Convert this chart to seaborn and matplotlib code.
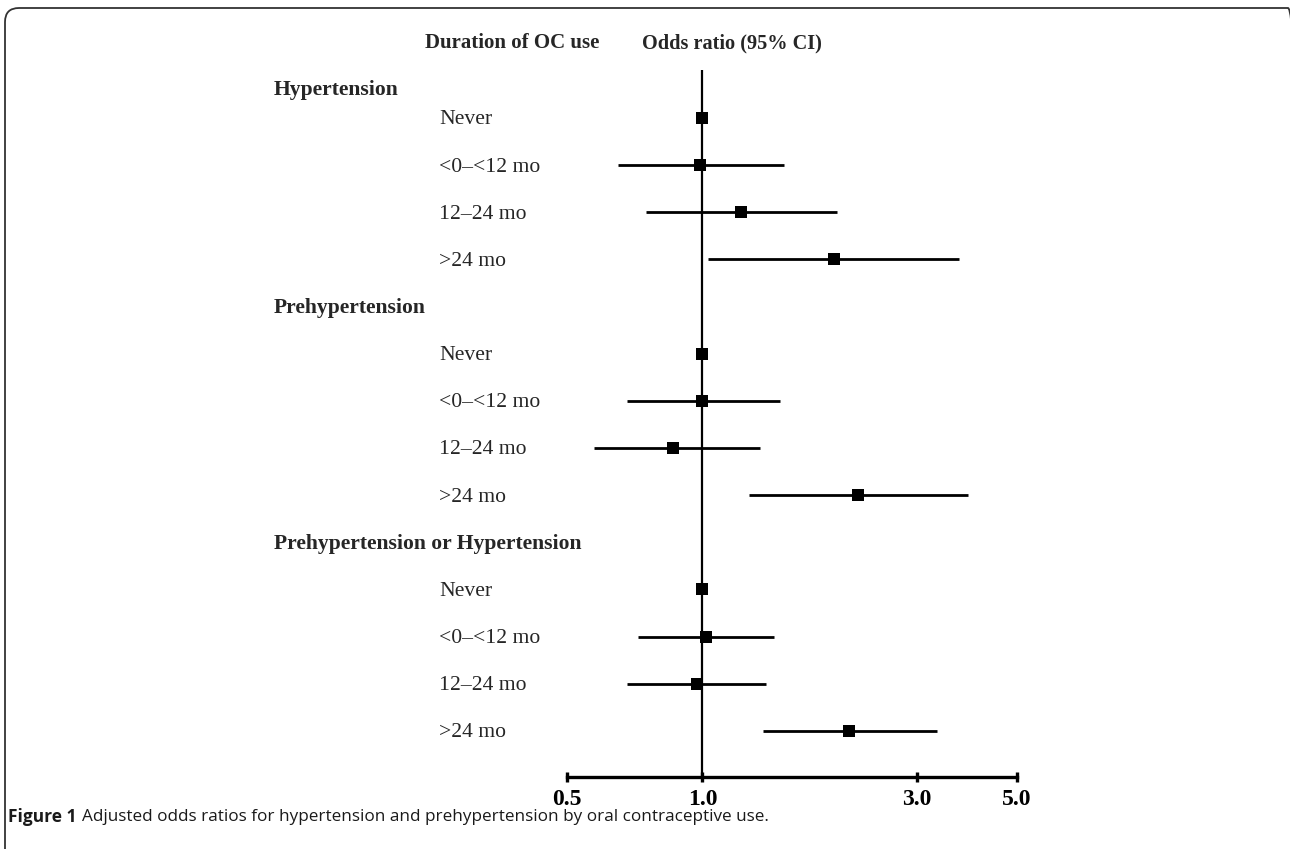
import numpy as np
import pandas as pd
import matplotlib
matplotlib.use("Agg")
import matplotlib.pyplot as plt
import matplotlib.transforms as mtransforms
from matplotlib.patches import FancyBboxPatch
import seaborn as sns

# values
groups = ["Hypertension", "Prehypertension", "Prehypertension or Hypertension"]
durations = ["Never", "<0\u2013<12 mo", "12\u201324 mo", ">24 mo"]
odds_ratio = [
    [1.00, 0.99, 1.22, 1.96],
    [1.00, 1.00, 0.86, 2.22],
    [1.00, 1.02, 0.97, 2.12],
]
ci_low = [
    [1.00, 0.65, 0.75, 1.03],
    [1.00, 0.68, 0.575, 1.27],
    [1.00, 0.72, 0.68, 1.36],
]
ci_high = [
    [1.00, 1.52, 1.99, 3.72],
    [1.00, 1.485, 1.345, 3.90],
    [1.00, 1.44, 1.385, 3.32],
]
x_ticks = [0.5, 1.0, 3.0, 5.0]
x_tick_labels = ["0.5", "1.0", "3.0", "5.0"]

W, H = 1290, 849
SERIF = ["Liberation Serif", "DejaVu Serif"]
SANS = ["Open Sans", "DejaVu Sans"]

# build long table, one row per duration; slot = vertical row position
rows = []
headers = []
slot = 0
for g_i, g in enumerate(groups):
    if g_i > 0:
        headers.append((g, slot))
        slot += 1
    else:
        headers.append((g, -0.64))
    for d_i, d in enumerate(durations):
        rows.append({
            "group": g, "duration": d, "slot": slot,
            "or": odds_ratio[g_i][d_i],
            "lo": ci_low[g_i][d_i], "hi": ci_high[g_i][d_i],
        })
        slot += 1
df = pd.DataFrame(rows)

sns.set_theme(style="white")
plt.rcParams["font.family"] = SERIF

fig = plt.figure(figsize=(W / 100, H / 100), dpi=100)
ax = fig.add_axes([567 / W, 1 - 777 / H, (1017 - 567) / W, (777 - 70) / H])

ax.set_xscale("log")
ax.set_xlim(0.5, 5.0)
ax.set_ylim(13.98, -1.02)

ax.axvline(1.0, color="black", lw=1.6, zorder=1)
ci = df[df["lo"] != df["hi"]]
ax.hlines(ci["slot"], ci["lo"], ci["hi"], color="black", lw=2.0, zorder=2)
sns.scatterplot(data=df, x="or", y="slot", marker="s", s=85, color="black",
                edgecolor="black", linewidth=0, zorder=3, ax=ax, legend=False)

for side in ["top", "left", "right"]:
    ax.spines[side].set_visible(False)
ax.spines["bottom"].set_linewidth(2.4)
ax.spines["bottom"].set_color("black")
ax.set_xticks(x_ticks)
ax.set_xticklabels(x_tick_labels, fontweight="bold", fontsize=17, family=SERIF)
ax.xaxis.set_minor_locator(matplotlib.ticker.NullLocator())
ax.tick_params(axis="x", direction="inout", length=7, width=2.4, pad=5,
               colors="black", bottom=True)
ax.set_yticks([])
ax.set_xlabel("")
ax.set_ylabel("")

# row labels, left of the axes
trans = mtransforms.blended_transform_factory(fig.transFigure, ax.transData)
for g, s in headers:
    ax.text(274 / W, s + 0.04, g, transform=trans, ha="left", va="center",
            fontsize=15.6, fontweight="bold", family=SERIF, clip_on=False)
for _, r in df.iterrows():
    ax.text(439 / W, r["slot"] + 0.04, r["duration"], transform=trans, ha="left",
            va="center", fontsize=15.6, family=SERIF, clip_on=False)

# column headers
fig.text(425 / W, 1 - 43 / H, "Duration of OC use", ha="left", va="center",
         fontsize=15, fontweight="bold", family=SERIF)
fig.text(642 / W, 1 - 43 / H, "Odds ratio (95% CI)", ha="left", va="center",
         fontsize=14.6, fontweight="bold", family=SERIF)

# caption
cap1 = fig.text(8 / W, 1 - 817 / H, "Figure 1", ha="left", va="center",
                fontsize=12.5, fontweight="bold", family=SANS, color="#1a1a1a")
renderer = fig.canvas.get_renderer()
bb = cap1.get_window_extent(renderer)
fig.text(bb.x1 / W + 5 / W, 1 - 817 / H,
         "Adjusted odds ratios for hypertension and prehypertension by oral contraceptive use.",
         ha="left", va="center", fontsize=12.3, family=SANS, color="#1a1a1a")

# rounded frame in pixel coords, open past the bottom/right edges of the image
frame = FancyBboxPatch((5, -30), 1302 - 5, H - 8 + 30,
                       boxstyle="round,pad=0,rounding_size=14",
                       transform=mtransforms.IdentityTransform(), fill=False,
                       edgecolor="#333333", lw=1.3, clip_on=False)
fig.patches.append(frame)

fig.savefig("out.png", dpi=100)
plt.close(fig)
